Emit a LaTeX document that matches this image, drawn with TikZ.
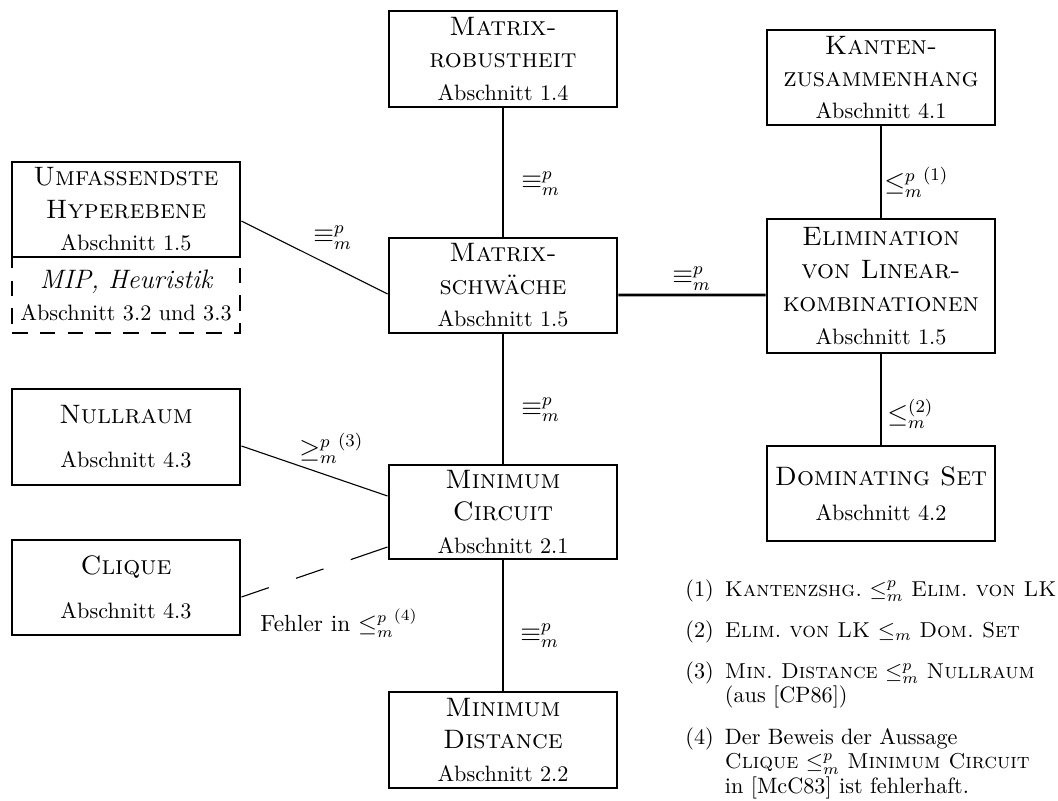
\documentclass[tikz,border=0pt]{standalone}
\usepackage{fontspec}
\usetikzlibrary{calc}
\newcommand\ttl[1]{{\large\textsc{#1}}}
\newcommand\fsc[1]{{\fontsize{9.7}{12}\selectfont\textsc{#1}}}
\begin{document}
\frenchspacing
\begin{tikzpicture}[x=0.45pt,y=-0.45pt,
  box/.style={draw, line width=1.3pt, minimum width=102.6pt, minimum height=42.75pt,
    align=center, inner sep=0pt, fill=white, font=\fontsize{10}{14.6}\selectfont},
  dbox/.style={box, dash pattern=on 7pt off 5.5pt, font=\fontsize{10}{14.4}\selectfont},
  conn/.style={line width=1.3pt},
  thinconn/.style={line width=0.5pt},
  lbl/.style={inner sep=0pt, anchor=base west, font=\large},
  nlbl/.style={inner sep=0pt, anchor=base west}]
\useasboundingbox (0,0) rectangle (1058,801);

% boxes
\node[box, minimum height=43.2pt] (robust) at (503,59) {\ttl{Matrix-}\\\ttl{robustheit}\\Abschnitt 1.4};
\node[box] (kanten) at (881,77.5) {\ttl{Kanten-}\\\ttl{zusammenhang}\\Abschnitt 4.1};
\node[dbox, minimum height=34.2pt] (mip) at (126,295) {{\large\itshape MIP, Heuristik}\\Abschnitt 3.2 und 3.3};
\node[box] (hyp) at (126,209.5) {\ttl{Umfassendste}\\\ttl{Hyperebene}\\Abschnitt 1.5};
\node[box] (schw) at (503,285.5) {\ttl{Matrix-}\\\ttl{schwäche}\\Abschnitt 1.5};
\node[box, minimum height=60.3pt, font=\fontsize{10}{14.8}\selectfont] (elim) at (881,286) {\ttl{Elimination}\\\ttl{von Linear-}\\\ttl{kombinationen}\\Abschnitt 1.5};
\node[box, font=\fontsize{10}{15.8}\selectfont] (dom) at (881,493.5) {\ttl{Dominating Set}\\Abschnitt 4.2};
\node[box, minimum height=43.2pt, font=\fontsize{10}{19.8}\selectfont] (null) at (126,437) {\ttl{Nullraum}\\Abschnitt 4.3};
\node[box, minimum height=42.3pt] (circ) at (503,512) {\ttl{Minimum}\\\ttl{Circuit}\\Abschnitt 2.1};
\node[box, font=\fontsize{10}{19.8}\selectfont] (clique) at (126,587.5) {\ttl{Clique}\\Abschnitt 4.3};
\node[box, minimum height=43.2pt] (dist) at (503,740) {\ttl{Minimum}\\\ttl{Distance}\\Abschnitt 2.2};

% connectors
\draw[conn] (robust.south) -- (schw.north);
\draw[conn] (schw.south) -- (circ.north);
\draw[conn] (circ.south) -- (dist.north);
\draw[conn] (kanten.south) -- (elim.north);
\draw[conn] (elim.south) -- (dom.north);
\draw[conn] ($(schw.east)+(0,9.5)$) -- ($(elim.west)+(0,9)$);
\draw[thinconn] ($(hyp.east)+(0,11.5)$) -- ($(schw.west)+(0,8.5)$);
\draw[thinconn] ($(null.east)+(0,9)$) -- ($(circ.west)+(0,-16)$);
\draw[thinconn, dash pattern=on 13pt off 13pt on 13pt off 13pt on 20pt] ($(clique.east)+(0,9.5)$) -- ($(circ.west)+(0,35)$);

% labels
\node[lbl] (l1) at (521,189) {$\equiv^p_m$};
\node[lbl] (l2) at (521,415) {$\equiv^p_m$};
\node[lbl] (l3) at (520,641) {$\equiv^p_m$};
\node[lbl] (l4) at (672,284) {$\equiv^p_m$};
\node[lbl] (l5) at (313,243) {$\equiv^p_m$};
\node[lbl] (l6) at (884,191) {${\leq^p_m}^{(1)}$};
\node[lbl] (l7) at (887,422) {$\leq_m^{(2)}$};
\node[lbl] (l8) at (299,457) {${\geq^p_m}^{(3)}$};
\node[nlbl, font=\fontsize{10.5}{12}\selectfont] (l9) at (260,631) {Fehler in ${\leq^p_m}^{(4)}$};

% notes
\node[nlbl] (notes) at (685,596) {\renewcommand\arraystretch{0.92}%
\begin{tabular}[t]{@{}r@{\hspace{5pt}}l@{}}
(1) & \fsc{Kantenzshg.} $\leq^p_m$ \fsc{Elim. von LK}\\[7.5pt]
(2) & \fsc{Elim. von LK} $\leq_m$ \fsc{Dom. Set}\\[7.5pt]
(3) & \fsc{Min. Distance} $\leq^p_m$ \fsc{Nullraum}\\
    & (aus [CP86])\\[7.5pt]
(4) & Der Beweis der Aussage\\
    & \fsc{Clique} $\leq^p_m$ \fsc{Minimum Circuit}\\
    & in [McC83] ist fehlerhaft.
\end{tabular}};
\end{tikzpicture}
\end{document}
